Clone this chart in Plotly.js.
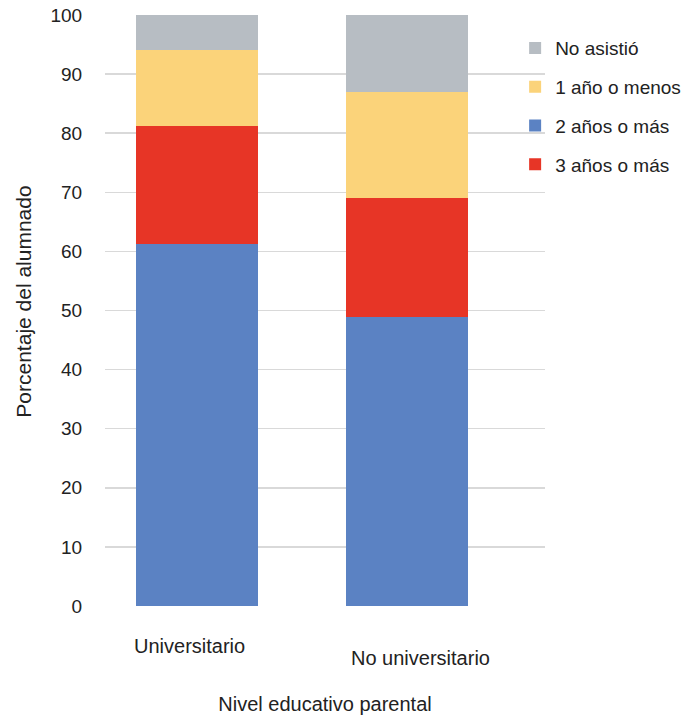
<!DOCTYPE html>
<html>
<head>
<meta charset="utf-8">
<script src="https://cdn.plot.ly/plotly-3.0.1.min.js"></script>
<style>html,body{margin:0;padding:0;background:#fff;}#chart{width:697px;height:718px;}</style>
</head>
<body>
<div id="chart"></div>
<script>
const categories = ["Universitario", "No universitario"];
const seriesNames = ["2 años o más", "3 años o más", "1 año o menos", "No asistió"];
const legendOrder = [3, 4, 2, 1];
const dosAnios = [61.3, 48.9];
const tresAnios = [19.9, 20.1];
const unAnio = [12.9, 18.0];
const noAsistio = [5.9, 13.0];
const yTicks = [0, 10, 20, 30, 40, 50, 60, 70, 80, 90, 100];
const yTitle = "Porcentaje del alumnado";
const xTitle = "Nivel educativo parental";

const colors = ["#5b82c3", "#e73526", "#fbd37a", "#b7bdc3"];
const values = [dosAnios, tresAnios, unAnio, noAsistio];
const xIdx = categories.map((c, i) => i);

const traces = values.map((v, i) => ({
  type: "bar",
  x: xIdx,
  y: v,
  name: seriesNames[i],
  legendgroup: "g" + i,
  legendrank: legendOrder[i],
  marker: {color: colors[i], line: {width: 0}},
  width: 0.578,
  hoverinfo: "none"
}));

const FONT = "Liberation Sans, Arial, Helvetica, sans-serif";
const labelShift = [{xs: -7, ys: -40}, {xs: 13, ys: -52}];
const annotations = categories.map((c, i) => ({
  text: c, x: i, y: 0, xref: "x", yref: "paper",
  yanchor: "middle", xanchor: "center",
  xshift: labelShift[i].xs, yshift: labelShift[i].ys,
  showarrow: false, font: {family: FONT, size: 20, color: "#222"}
}));
annotations.push({
  text: yTitle, xref: "paper", yref: "paper", x: -0.184, y: 0.515,
  xanchor: "center", yanchor: "middle", textangle: -90, showarrow: false,
  font: {family: FONT, size: 21, color: "#222"}
});

const layout = {
  width: 697, height: 718,
  margin: {l: 105, r: 151, t: 15, b: 112},
  barmode: "stack",
  paper_bgcolor: "#fff", plot_bgcolor: "#fff",
  font: {family: FONT, color: "#222"},
  showlegend: true,
  legend: {
    x: 0.93, xanchor: "left", y: 0.976, yanchor: "top",
    traceorder: "grouped", tracegroupgap: 11,
    font: {family: FONT, size: 19, color: "#222"},
    bgcolor: "rgba(255,255,255,0)"
  },
  xaxis: {
    range: [-0.436, 1.654], showticklabels: false, showgrid: false,
    zeroline: false, showline: false, ticks: "", fixedrange: true,
    title: {text: xTitle, font: {family: FONT, size: 20, color: "#222"}, standoff: 90}
  },
  yaxis: {
    range: [0, 100], tickvals: yTicks, ticktext: yTicks.map(String),
    showgrid: true, gridcolor: "#d9d9d9", gridwidth: 1.5,
    zeroline: false, showline: false, ticks: "outside", ticklen: 18, tickcolor: "rgba(0,0,0,0)",
    tickfont: {family: FONT, size: 19, color: "#222"}
  },
  annotations: annotations
};

Plotly.newPlot("chart", traces, layout, {staticPlot: true, displayModeBar: false});
</script>
</body>
</html>
